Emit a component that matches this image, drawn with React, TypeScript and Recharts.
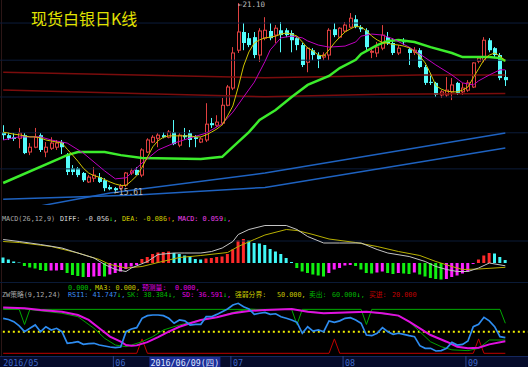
import { Bar, Cell, ComposedChart, Line, ReferenceLine, XAxis, YAxis } from "recharts";

// daily candles, 2016-05-03 .. 2016-09-12 (index = trading day)
const OPEN = [17.35,17.26,17.20,17.17,17.26,16.77,16.91,17.26,16.77,16.88, 16.91,17.06,16.68,16.30,16.30,16.16,15.90,16.01,16.04,15.95, 15.75,15.72,15.72,15.81,16.16,16.25,16.10,16.77,17.06,17.17, 17.26,17.20,17.35,16.97,17.26,17.32,17.20,17.06,17.12,17.61, 17.55,17.61,18.13,18.63,19.73,20.26,20.08,20.11,19.59,20.08, 20.29,20.17,20.31,20.31,20.23,20.08,19.88,19.38,19.73,19.59, 19.53,19.59,20.34,20.11,20.29,20.40,20.63,20.40,20.31,19.67, 19.65,19.79,20.11,19.94,19.65,19.99,19.76,19.67,19.73,19.24, 18.81,18.78,18.43,18.43,18.52,18.78,18.52,18.57,18.66,19.41, 19.44,20.02,19.79,19.59,18.95];
const HIGH = [17.55,17.35,17.32,17.47,17.32,17.03,17.47,17.32,17.06,17.20, 17.12,17.12,16.74,16.39,16.33,16.19,16.10,16.33,16.16,16.01, 15.81,15.75,15.84,16.19,16.30,16.33,16.88,17.17,17.26,17.32, 17.35,17.41,17.70,17.32,17.47,17.41,17.26,17.20,18.19,17.76, 17.84,18.34,18.72,19.82,21.10,20.52,20.23,20.26,20.37,20.69, 20.52,20.46,20.55,20.37,20.31,20.11,19.94,19.82,19.79,19.67, 19.67,20.37,20.52,20.40,20.55,20.81,20.75,20.46,20.37,19.79, 19.97,20.46,20.26,20.08,19.88,20.08,19.82,19.82,19.79,19.30, 19.06,18.81,18.57,18.95,18.92,18.81,18.78,18.86,19.38,19.53, 20.11,20.08,19.82,19.65,19.15];
const LOW = [17.12,17.12,17.09,16.88,16.71,16.68,16.88,16.77,16.62,16.83, 16.83,16.71,16.10,16.10,16.04,15.90,15.87,15.90,15.87,15.63, 15.66,15.61,15.66,15.75,16.10,16.10,16.04,16.74,17.03,16.91, 17.17,17.17,16.97,16.91,17.12,16.91,16.91,17.03,17.06,17.47, 17.50,17.55,18.10,18.57,19.65,19.73,19.82,19.50,19.39,20.02, 20.02,19.94,19.67,20.11,19.67,19.73,19.24,19.09,19.44,19.21, 19.44,19.44,20.11,20.08,20.26,20.37,20.37,20.26,19.73,19.50, 19.53,19.73,19.88,19.59,19.59,19.88,19.30,19.59,19.21,18.72, 18.72,18.37,18.34,18.37,18.28,18.43,18.43,18.52,18.63,19.35, 19.38,19.67,19.50,18.86,18.69];
const CLOSE = [17.26,17.17,17.15,17.32,16.74,16.91,17.20,16.83,16.91,17.03, 17.03,16.91,16.19,16.19,16.10,15.95,16.04,16.10,15.90,15.72, 15.69,15.66,15.78,16.16,16.22,16.10,16.83,17.12,17.20,17.26, 17.20,17.35,17.00,17.26,17.20,17.12,17.15,17.15,17.58,17.55, 17.64,18.13,18.66,19.65,20.26,19.94,19.88,19.59,20.29,20.31, 20.08,20.37,20.17,20.17,20.02,19.88,19.30,19.79,19.59,19.47, 19.59,20.31,20.17,20.37,20.46,20.66,20.40,20.34,19.82,19.70, 19.82,20.17,19.94,19.65,19.79,19.97,19.65,19.73,19.24,18.78, 18.78,18.43,18.52,18.57,18.72,18.49,18.63,18.78,19.36,19.50, 20.02,19.73,19.59,18.92,18.86];

const MA5 = [17.35,17.32,17.29,17.27,17.24,17.21,17.21,17.18,17.12,17.09, 17.06,17.03,16.85,16.68,16.50,16.30,16.16,16.08,16.04,15.97, 15.90,15.84,15.80,15.80,15.93,16.08,16.33,16.62,16.92,17.10, 17.20,17.24,17.24,17.24,17.24,17.24,17.21,17.21,17.27,17.35, 17.44,17.56,17.82,18.11,18.66,19.27,19.68,19.94,20.03,20.09, 20.11,20.14,20.20,20.23,20.20,20.14,19.97,19.79,19.71,19.59, 19.56,19.74,19.94,20.11,20.26,20.35,20.43,20.40,20.30,20.14, 20.03,19.95,19.93,19.90,19.88,19.85,19.80,19.70,19.56,19.36, 19.05,18.70,18.60,18.54,18.52,18.52,18.57,18.66,18.93,19.19, 19.45,19.59,19.65,19.56,19.42];

// smoother lines, read at [day, value]
const MA10_PTS: [number, number][] = [[0,17.12],[3,17.21],[7,17.21],[9,17.12],[12,17.03],[15,16.74],[17,16.48],[19,16.22],[21,15.99],[23,16.02],[26,16.45],[29,16.83],[32,17.03],[35,17.18],[38,17.32],[41,17.59],[43,17.93],[45,18.37],[47,18.80],[48,19.10],[49,19.40],[50,19.74],[52,20.09],[54,20.14],[56,20.09],[57,20.00],[59,19.88],[61,19.82],[64,19.85],[66,19.97],[67,20.14],[69,20.20],[71,20.17],[73,20.06],[76,19.82],[78,19.62],[81,19.30],[84,19.01],[86,18.78],[88,18.72],[89,18.84],[91,19.01],[93,19.16],[94,19.16]];
const MA60_PTS: [number, number][] = [[0,15.87],[12,16.68],[14,16.77],[19,16.77],[22,16.68],[26,16.60],[37,16.57],[41,16.63],[43,16.92],[46,17.35],[48,17.70],[51,17.99],[54,18.37],[57,18.72],[61,18.98],[63,19.21],[66,19.45],[67,19.62],[70,19.88],[72,20.00],[74,20.03],[77,19.97],[80,19.82],[84,19.65],[86,19.53],[91,19.53],[93,19.50],[94,19.42]];
const LONG1_PTS: [number, number][] = [[0,19.09],[25,19.01],[49,18.93],[68,18.98],[78,19.01],[94,19.01]];
const LONG2_PTS: [number, number][] = [[0,18.57],[25,18.47],[49,18.38],[71,18.45],[94,18.47]];
const BLUE1_PTS: [number, number][] = [[0,15.00],[20,15.58],[49,16.16],[94,17.32]];
const BLUE2_PTS: [number, number][] = [[0,15.40],[25,15.52],[49,15.74],[94,16.89]];

const MACD_HIST = [0.11,0.07,0.03,0.01,-0.06,-0.09,-0.11,-0.14,-0.16,-0.15, -0.15,-0.14,-0.20,-0.24,-0.26,-0.28,-0.28,-0.27,-0.26,-0.27, -0.23,-0.20,-0.17,-0.12,-0.07,-0.04,0.08,0.12,0.18,0.21, 0.22,0.23,0.20,0.18,0.15,0.13,0.08,0.07,0.09,0.10, 0.12,0.13,0.18,0.27,0.45,0.48,0.45,0.40,0.39,0.36, 0.28,0.23,0.18,0.10,0.02,-0.10,-0.17,-0.20,-0.23,-0.25, -0.27,-0.20,-0.13,-0.10,-0.05,-0.04,-0.06,-0.13,-0.20,-0.21, -0.19,-0.17,-0.20,-0.22,-0.20,-0.21,-0.22,-0.19,-0.23,-0.27, -0.30,-0.32,-0.33,-0.32,-0.28,-0.25,-0.21,-0.17,-0.02,0.07, 0.15,0.20,0.19,0.12,0.059];
const DIFF_PTS: [number, number][] = [[0,0.47],[3,0.43],[7,0.37],[11,0.30],[14,0.20],[17,0.10],[19,-0.03],[21,-0.13],[23,-0.17],[24,-0.10],[27,0.03],[29,0.17],[32,0.20],[34,0.20],[37,0.20],[39,0.23],[41,0.30],[43,0.43],[44,0.57],[46,0.67],[49,0.75],[53,0.75],[55,0.67],[57,0.53],[60,0.40],[63,0.40],[67,0.40],[70,0.27],[72,0.20],[76,0.13],[79,0.03],[81,-0.07],[83,-0.13],[85,-0.17],[87,-0.17],[89,-0.10],[91,0.00],[94,-0.056]];
const DEA_PTS: [number, number][] = [[0,0.43],[3,0.41],[9,0.33],[14,0.20],[18,0.07],[20,-0.03],[23,-0.10],[26,-0.07],[29,0.01],[33,0.11],[37,0.15],[42,0.21],[44,0.33],[47,0.47],[49,0.56],[53,0.67],[55,0.65],[58,0.57],[61,0.48],[66,0.41],[70,0.33],[74,0.23],[78,0.15],[81,0.03],[84,-0.07],[86,-0.13],[89,-0.12],[94,-0.086]];

const RSI1 = [68.6,67,63.9,58,50,54.7,59.3,50,56.9,52.4, 54.7,50,33.9,34.8,36.1,32.4,33.4,33.9,31.5,30.1, 28.7,27.8,28.7,50,53.7,55.6,68.6,72.3,73.2,73.2, 72.3,68.6,61.7,66.3,65,59.3,60.2,60.2,70.8,70.8, 74,77.8,81.5,87.1,89.4,84.7,81.5,74,75.6,76.7, 74,74.9,70.8,68.6,66.3,63,47.8,56.9,50.9,52.4, 50,65,63,65,68.6,69.5,66.3,61.7,45.4,44.5, 47.8,55.6,50,46.3,47.8,46.3,44.5,43.1,30.6,26.9, 26.9,23.2,23.7,26.9,35.2,31.5,32.4,37.1,56.9,60.2, 69.9,65,56.9,43.1,41.7];
const SK_PTS: [number, number][] = [[0,82.5],[4,81.5],[11,75.6],[14,70.8],[17,54.7],[19,40.8],[21,31.5],[23,29.2],[24,31.5],[26,36.1],[28,43.1],[30,52.4],[33,59.3],[37,66.3],[40,70],[43,76.7],[46,81.5],[49,80.1],[54,81.5],[60,75.6],[68,77.8],[74,72.3],[76,63.9],[78,50],[80,36],[82,29.2],[84,24.8],[87,23.7],[89,26.9],[91,38.5],[94,38.4]];
const SD_PTS: [number, number][] = [[0,83.5],[4,82.5],[7,80.1],[11,77.8],[14,73.2],[16,66.3],[18,54.7],[20,43.1],[22,36.1],[23,31.5],[24,30.6],[25,31.0],[27,35.5],[29,42.5],[31,50],[33,56.9],[35,61.7],[37,66.3],[40,70],[43,75.6],[46,78.7],[49,80.1],[54,81.5],[57,77.8],[60,75.6],[64,76.7],[68,77.8],[71,75.6],[74,72.3],[76,63.9],[78,54.7],[80,45.4],[83,36.1],[85,29.2],[87,26.9],[89,27.8],[91,32.4],[94,36.6]];
const SELL_PTS: [number, number][] = [[0,81],[3,81],[4,60],[5,81],[54,81],[55,60],[56,81],[67,81],[68,60],[69,81],[93,81],[94,61.7]];
const BUY_PTS: [number, number][] = [[0,20],[25,20],[26,40],[27,20],[61,20],[62,40],[63,20],[88,20],[89,40],[90,20],[94,20]];
const BALANCE = 50;

const TICK_INDEX = [0, 21, 27, 43, 64, 87];
const TICK_LABELS = ["2016/05", "06", "2016/06/09(四)", "07", "08", "09"];
const HILITE_INDEX = 27;
const PRICE_GRID = [16.28, 17.33, 18.37, 19.44, 20.52];
const MACD_GRID = [0.44, -0.39];

const RED = "#e04040";
const CYAN = "#54fcfc";
const MONO = "'DejaVu Sans Mono', 'Noto Sans CJK SC', monospace";
const MARGIN = { top: 0, right: 20, bottom: 0, left: 0.5 };
const X_DOMAIN: [number, number] = [-0.5, 94.5];

function sparse(points: [number, number][]) {
  const out: (number | null)[] = OPEN.map(() => null);
  points.forEach(([i, v]) => { out[i] = v; });
  return out;
}

const ma10 = sparse(MA10_PTS), ma60 = sparse(MA60_PTS), long1 = sparse(LONG1_PTS), long2 = sparse(LONG2_PTS);
const blue1 = sparse(BLUE1_PTS), blue2 = sparse(BLUE2_PTS);
const diff = sparse(DIFF_PTS), dea = sparse(DEA_PTS);
const sk = sparse(SK_PTS), sd = sparse(SD_PTS), sell = sparse(SELL_PTS), buy = sparse(BUY_PTS);

const priceRows = OPEN.map((open, i) => ({
  i, open, high: HIGH[i], low: LOW[i], close: CLOSE[i],
  ma5: MA5[i], ma10: ma10[i], ma60: ma60[i], long1: long1[i], long2: long2[i], blue1: blue1[i], blue2: blue2[i],
}));
const macdRows = MACD_HIST.map((macd, i) => ({ i, macd, diff: diff[i], dea: dea[i] }));
const zwRows = RSI1.map((rsi, i) => ({ i, rsi, sk: sk[i], sd: sd[i], sell: sell[i], buy: buy[i] }));

// red rising / cyan falling above zero, green falling / magenta rising below
function macdColor(i: number) {
  const v = MACD_HIST[i];
  const prev = i > 0 ? MACD_HIST[i - 1] : null;
  if (v >= 0) return prev !== null && v >= prev ? "#ff2a2a" : "#40f8f8";
  return prev !== null && v >= prev ? "#ff20ff" : "#10f010";
}

function Candle(props: any) {
  const { x, y, width, height, payload } = props;
  if (x == null || !payload) return null;
  const { open, close, high, low } = payload;
  const top = Math.min(y, y + height);
  const h = Math.abs(height);
  const k = high > low ? h / (high - low) : 0;
  const yOf = (v: number) => top + (high - v) * k;
  const up = close >= open;
  const color = up ? RED : CYAN;
  const left = Math.round(x);
  const w = Math.max(3, Math.round(width));
  const cx = left + 1.5;
  const bTop = yOf(Math.max(open, close));
  const bh = Math.max(1, yOf(Math.min(open, close)) - bTop);
  return (
    <g>
      <line x1={cx} x2={cx} y1={top} y2={top + h} stroke={color} strokeWidth={1} />
      {up ? (
        <rect x={left + 0.5} y={bTop} width={w - 1} height={bh} fill="#000" stroke={color} strokeWidth={1} />
      ) : (
        <rect x={left} y={bTop} width={w} height={bh} fill={color} />
      )}
    </g>
  );
}

function DateTick(props: any) {
  const { x, y, payload } = props;
  const idx = TICK_INDEX.indexOf(payload.value);
  const label = TICK_LABELS[idx];
  if (payload.value === HILITE_INDEX) {
    return (
      <g>
        <rect x={x + 2} y={y + 1} width={71} height={10} fill="#1d2e96" />
        <text x={x + 3} y={y + 9.5} fill="#dfe6ff" fontSize={8.4} fontFamily={MONO}>{label}</text>
      </g>
    );
  }
  return (
    <g>
      {payload.value > 0 && <line x1={x - 2} x2={x - 2} y1={y} y2={y + 11} stroke="#2a4690" />}
      <text x={x} y={y + 9.5} fill="#3d68c8" fontSize={8.4} fontFamily={MONO}>{label}</text>
    </g>
  );
}

function gridLine(v: number, color: string) {
  return (
    <ReferenceLine key={v} segment={[{ x: -1, y: v }, { x: 98.5, y: v }]} stroke={color} ifOverflow="visible" />
  );
}

const line = (key: string, color: string, width = 1) => (
  <Line key={key} dataKey={key} type="linear" stroke={color} strokeWidth={width} dot={false} connectNulls isAnimationActive={false} />
);

export default function App() {
  const txt = (left: number, top: number, children: any, color: string, size = 6.8) => (
    <div style={{ position: "absolute", left, top, color, fontSize: size, fontFamily: MONO, lineHeight: 1, whiteSpace: "pre" }}>
      {children}
    </div>
  );
  const dn = <span style={{ color: "#10d010" }}>↓</span>;
  const upA = <span style={{ color: "#ff2020" }}>↑</span>;

  return (
    <div style={{ position: "absolute", left: 0, top: 0, width: 528, height: 367, background: "#000", overflow: "hidden" }}>
      <div style={{ position: "absolute", left: 0, top: 356, width: 528, height: 11, background: "#050b2a", borderTop: "1px solid #14275e" }} />
      <div style={{ position: "absolute", left: 1, top: 0, width: 1, height: 356, background: "#2c1616" }} />

      <div style={{ position: "absolute", left: 0, top: 0 }}>
        <ComposedChart width={528} height={205} data={priceRows} margin={MARGIN}>
          <XAxis dataKey="i" type="number" domain={X_DOMAIN} hide />
          <YAxis type="number" domain={[15.23, 21.19]} allowDataOverflow hide />
          {PRICE_GRID.map((v) => gridLine(v, "#0c1c3a"))}
          {line("blue1", "#1e62c0", 1.5)}
          {line("blue2", "#1e62c0", 1.5)}
          {line("long1", "#7a0c0c", 1.5)}
          {line("long2", "#7a0c0c", 1.5)}
          <Bar dataKey={(d: any) => [d.low, d.high]} barSize={4} shape={Candle} isAnimationActive={false} />
          {line("ma60", "#3cec2c", 2.5)}
          {line("ma10", "#c000c0", 1)}
          {line("ma5", "#cfc400", 1)}
        </ComposedChart>
      </div>

      <div style={{ position: "absolute", left: 0, top: 218 }}>
        <ComposedChart width={528} height={66} data={macdRows} margin={MARGIN}>
          <XAxis dataKey="i" type="number" domain={X_DOMAIN} hide />
          <YAxis type="number" domain={[-0.42, 0.9]} allowDataOverflow hide />
          {MACD_GRID.map((v) => gridLine(v, "#0a1a36"))}
          <Bar dataKey="macd" barSize={3} isAnimationActive={false}>
            {MACD_HIST.map((_, i) => (
              <Cell key={i} fill={macdColor(i)} />
            ))}
          </Bar>
          {line("dea", "#b8b000", 1)}
          {line("diff", "#c4c4c4", 1)}
        </ComposedChart>
      </div>

      <div style={{ position: "absolute", left: 0, top: 300 }}>
        <ComposedChart width={528} height={67} data={zwRows} margin={MARGIN}>
          <XAxis
            dataKey="i"
            type="number"
            domain={X_DOMAIN}
            ticks={TICK_INDEX}
            interval={0}
            tick={DateTick}
            tickSize={0}
            tickMargin={0}
            axisLine={false}
            tickLine={false}
            height={11}
          />
          <YAxis type="number" domain={[16.25, 94]} allowDataOverflow hide />
          <ReferenceLine
            segment={[{ x: -1, y: BALANCE }, { x: 98.5, y: BALANCE }]}
            stroke="#f0f000"
            strokeWidth={2}
            strokeDasharray="2 3"
            ifOverflow="visible"
          />
          {line("buy", "#c00000", 1)}
          {line("sell", "#00a800", 1)}
          {line("sk", "#00a000", 1)}
          {line("sd", "#e010e0", 2)}
          {line("rsi", "#2e8cf0", 1.7)}
        </ComposedChart>
      </div>

      <div style={{ position: "absolute", left: 31, top: 10, fontSize: 16, color: "#e2e200", fontFamily: "'Noto Sans CJK SC', sans-serif", lineHeight: 1 }}>
        现货白银日K线
      </div>
      {txt(238, 0.5, "←21.10", "#bcbcbc", 7.5)}
      {txt(114, 189, "←15.61", "#bcbcbc", 8)}

      {txt(2, 216, "MACD(26,12,9)", "#a8a8a8")}
      {txt(60, 216, <>DIFF: -0.056{dn},</>, "#d8d8d8")}
      {txt(122, 216, <>DEA: -0.086{upA},</>, "#d4d000")}
      {txt(178, 216, <>MACD: 0.059{dn},</>, "#f040f0")}

      {txt(68, 285, "0.000,", "#00c000")}
      {txt(95, 285, "MA3: 0.000,", "#c8c800")}
      {txt(142, 285, "预测量:", "#e000e0")}
      {txt(175, 285, "0.000,", "#e000e0")}

      {txt(2, 292, "ZW策略(9,12,24)", "#a8a8a8")}
      {txt(68, 292, <>RSI1: 41.747{dn},</>, "#3c8cf0")}
      {txt(127, 292, <>SK: 38.384{dn},</>, "#00b400")}
      {txt(182, 292, <>SD: 36.591{dn},</>, "#e000e0")}
      {txt(235, 292, "强弱分界:", "#c8c800")}
      {txt(277, 292, "50.000,", "#c8c800")}
      {txt(309, 292, "卖出:", "#00b400")}
      {txt(332, 292, <>60.000{dn},</>, "#00b400")}
      {txt(369, 292, "买进:", "#c00000")}
      {txt(392, 292, "20.000", "#c00000")}
    </div>
  );
}
